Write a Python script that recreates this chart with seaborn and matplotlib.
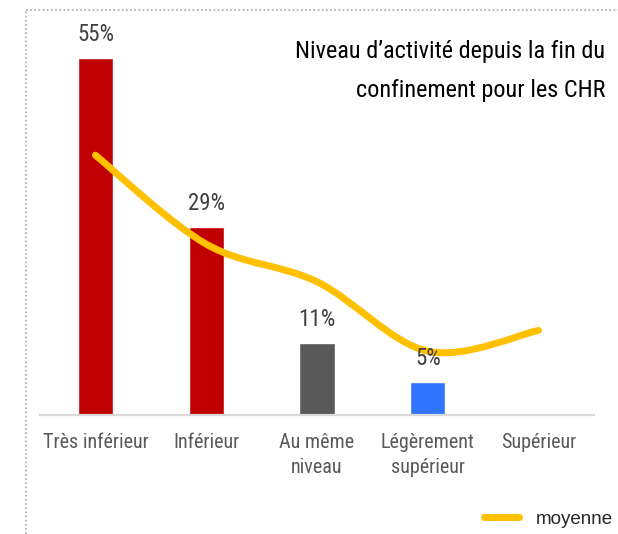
import matplotlib
matplotlib.use("Agg")
import matplotlib.pyplot as plt
from matplotlib import font_manager as fm
from matplotlib.path import Path
from matplotlib.patches import PathPatch
from matplotlib.lines import Line2D
import numpy as np
import pandas as pd
import seaborn as sns

categories = ["Très inférieur", "Inférieur", "Au même\nniveau", "Légèrement\nsupérieur", "Supérieur"]
bar_values = [55, 29, 11, 5, 0]
bar_labels = ["55%", "29%", "11%", "5%", ""]
bar_colors = ["#C00000", "#C00000", "#595959", "#2F75FF", "#2F75FF"]
avg_values = [40, 26.3, 20.5, 9.8, 13]
title_lines = ["Niveau d\u2019activité depuis la fin du", "confinement pour les CHR"]
legend_label = "moyenne"

sns.set_theme(style="white")

names = {f.name for f in fm.fontManager.ttflist}
cond_family = None
cond_stretch = "normal"
for cand in ["Roboto Condensed", "Liberation Sans Narrow", "Open Sans Condensed", "DejaVu Sans Condensed"]:
    if cand in names:
        cond_family = cand
        break
if cond_family is None:
    cond_family = "DejaVu Sans"
    cond_stretch = "condensed"
plt.rcParams["font.family"] = [cond_family, "DejaVu Sans"]

fig = plt.figure(figsize=(6.18, 5.34), dpi=100)
ax = fig.add_axes([40 / 618, 1 - 414.8 / 534, (594 - 40) / 618, (414.8 - 25.4) / 534])

df = pd.DataFrame({"cat": categories, "val": bar_values})
sns.barplot(data=df, x="cat", y="val", hue="cat", palette=bar_colors, legend=False,
            width=0.316, ax=ax, saturation=1)

ax.set_xlim(-0.5, 4.5)
ax.set_ylim(0, 60)
ax.set_xlabel("")
ax.set_ylabel("")
ax.set_yticks([])
for s in ["top", "right", "left"]:
    ax.spines[s].set_visible(False)
ax.spines["bottom"].set_color("#D9D9D9")
ax.spines["bottom"].set_linewidth(1.6)
ax.tick_params(axis="x", length=0, pad=13, labelsize=14.5, labelcolor="#595959")
for t in ax.get_xticklabels():
    t.set_fontstretch(cond_stretch)
    t.set_linespacing(1.4)
    t.set_verticalalignment("top")

for i, (v, lab) in enumerate(zip(bar_values, bar_labels)):
    if lab:
        ax.annotate(lab, (i, v), xytext=(0, 12.3), textcoords="offset points",
                    ha="center", va="baseline", fontsize=16.5, color="#404040",
                    fontstretch=cond_stretch, zorder=6)

# smoothed average line (Catmull-Rom style Bezier through the points)
xs = np.arange(len(avg_values), dtype=float)
ys = np.array(avg_values, dtype=float)
verts = [(xs[0], ys[0])]
codes = [Path.MOVETO]
n = len(xs)
for i in range(n - 1):
    p0 = np.array([xs[max(i - 1, 0)], ys[max(i - 1, 0)]])
    p1 = np.array([xs[i], ys[i]])
    p2 = np.array([xs[i + 1], ys[i + 1]])
    p3 = np.array([xs[min(i + 2, n - 1)], ys[min(i + 2, n - 1)]])
    c1 = p1 + (p2 - p0) / 6.0
    c2 = p2 - (p3 - p1) / 6.0
    verts += [tuple(c1), tuple(c2), tuple(p2)]
    codes += [Path.CURVE4, Path.CURVE4, Path.CURVE4]
patch = PathPatch(Path(verts, codes), facecolor="none", edgecolor="#FFC000",
                  linewidth=5, capstyle="round", joinstyle="round", zorder=5)
ax.add_patch(patch)

for line, base in zip(title_lines, [58, 97]):
    fig.text(605 / 618, 1 - base / 534, line, ha="right", va="baseline", fontsize=17.5,
             color="black", fontstretch=cond_stretch)

handle = Line2D([0], [0], color="#FFC000", linewidth=5)
fig.legend([handle], [legend_label], loc="center left",
           bbox_to_anchor=(484 / 618, 1 - 519 / 534), frameon=False,
           prop={"family": "Liberation Sans", "size": 13.5}, handlelength=1.85,
           handletextpad=0.9, borderaxespad=0, borderpad=0)

# dotted frame (left and top)
fig.add_artist(Line2D([25.5 / 618, 25.5 / 618], [0, 1 - 10 / 534], transform=fig.transFigure,
                      color="#A6A6A6", linestyle=(0, (1, 1.5)), linewidth=1.2))
fig.add_artist(Line2D([25.5 / 618, 1], [1 - 10 / 534, 1 - 10 / 534], transform=fig.transFigure,
                      color="#A6A6A6", linestyle=(0, (1, 1.5)), linewidth=1.2))

fig.savefig("out.png", dpi=100)
